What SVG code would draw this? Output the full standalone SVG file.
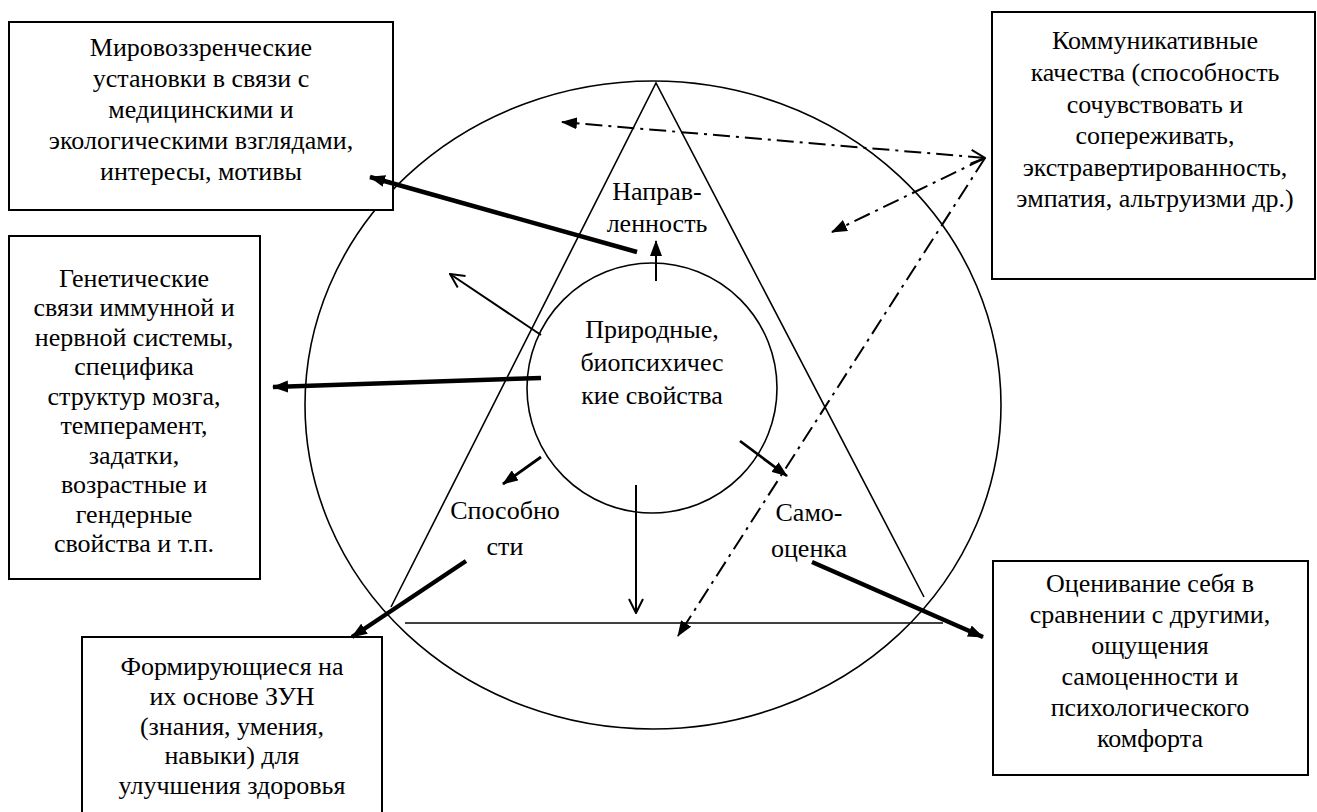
<svg xmlns="http://www.w3.org/2000/svg" width="1317" height="812" viewBox="0 0 1317 812">
<style>
text{font-family:"Liberation Serif","Times New Roman",serif;font-size:26px;fill:#000;text-anchor:middle}
.box{fill:#fff;stroke:#000;stroke-width:2}
.shape{fill:none;stroke:#000;stroke-width:1.6}
.thin{fill:none;stroke:#000;stroke-width:2}
.mid{fill:none;stroke:#000;stroke-width:2.8}
.thick{fill:none;stroke:#000;stroke-width:4.5}
.dd{fill:none;stroke:#000;stroke-width:2;stroke-dasharray:17 6 3 6}
</style>
<defs>
<marker id="fa" viewBox="0 0 16 12" refX="15" refY="6" markerWidth="16" markerHeight="12" markerUnits="userSpaceOnUse" orient="auto-start-reverse"><path d="M0,0 L16,6 L0,12 Z" fill="#000"/></marker>
<marker id="oa" viewBox="0 0 16 16" refX="15" refY="8" markerWidth="16" markerHeight="16" markerUnits="userSpaceOnUse" orient="auto-start-reverse"><path d="M1,1 L15,8 L1,15" fill="none" stroke="#000" stroke-width="2" stroke-dasharray="none"/></marker>
</defs>
<rect width="1317" height="812" fill="#fff"/>
<g id="background-shapes">
<ellipse class="shape" cx="653" cy="405" rx="348" ry="324"/>
<polyline class="shape" points="391,607 656,83 924,597"/>
<line class="shape" x1="405" y1="623" x2="943" y2="623"/>
</g>
<g id="core">
<circle cx="652" cy="388" r="125" fill="none" stroke="#000" stroke-width="1.6"/>
<text x="652" y="338">Природные,</text>
<text x="652" y="371">биопсихичес</text>
<text x="652" y="404">кие свойства</text>
</g>
<g id="label-napr"><text x="657" y="200">Направ-</text><text x="657" y="232">ленность</text></g>
<g id="label-sposob"><text x="505" y="519">Способно</text><text x="505" y="555">сти</text></g>
<g id="label-samo"><text x="809" y="521">Само-</text><text x="809" y="557">оценка</text></g>
<g id="box-worldview">
<rect class="box" x="9" y="22" width="384" height="188"/>
<text x="201" y="56">Мировоззренческие</text>
<text x="201" y="87">установки в связи с</text>
<text x="201" y="118">медицинскими и</text>
<text x="201" y="149">экологическими взглядами,</text>
<text x="201" y="180">интересы, мотивы</text>
</g>
<g id="box-communication">
<rect class="box" x="992" y="12" width="323" height="267"/>
<text x="1155" y="49">Коммуникативные</text>
<text x="1155" y="81">качества (способность</text>
<text x="1155" y="113">сочувствовать и</text>
<text x="1155" y="144">сопереживать,</text>
<text x="1155" y="176">экстравертированность,</text>
<text x="1155" y="207">эмпатия, альтруизми др.)</text>
</g>
<g id="box-genetic">
<rect class="box" x="9" y="236" width="251" height="343"/>
<text x="134" y="287">Генетические</text>
<text x="134" y="316">связи иммунной и</text>
<text x="134" y="346">нервной системы,</text>
<text x="134" y="375">специфика</text>
<text x="134" y="405">структур мозга,</text>
<text x="134" y="434">темперамент,</text>
<text x="134" y="464">задатки,</text>
<text x="134" y="493">возрастные и</text>
<text x="134" y="523">гендерные</text>
<text x="134" y="552">свойства и т.п.</text>
</g>
<g id="box-skills">
<rect class="box" x="82" y="637" width="300" height="185"/>
<text x="232" y="675">Формирующиеся на</text>
<text x="232" y="705">их основе ЗУН</text>
<text x="232" y="735">(знания, умения,</text>
<text x="232" y="764">навыки) для</text>
<text x="232" y="794">улучшения здоровья</text>
</g>
<g id="box-selfesteem">
<rect class="box" x="993" y="561" width="315" height="214"/>
<text x="1150" y="592">Оценивание себя в</text>
<text x="1150" y="623">сравнении с другими,</text>
<text x="1150" y="654">ощущения</text>
<text x="1150" y="685">самоценности и</text>
<text x="1150" y="716">психологического</text>
<text x="1150" y="747">комфорта</text>
</g>
<g id="connectors">
<line class="thick" x1="637" y1="252" x2="370" y2="177" marker-end="url(#fa)"/>
<line class="thin" x1="656" y1="281" x2="656" y2="241" marker-end="url(#fa)"/>
<line class="thin" x1="541" y1="335" x2="450" y2="274" marker-end="url(#oa)"/>
<line class="thick" x1="541" y1="378" x2="273" y2="387" marker-end="url(#fa)"/>
<line class="mid" x1="541" y1="457" x2="503" y2="484" marker-end="url(#fa)"/>
<line class="thick" x1="466" y1="561" x2="352" y2="637" marker-end="url(#fa)"/>
<line class="thin" x1="636" y1="485" x2="636" y2="613" marker-end="url(#oa)"/>
<line class="mid" x1="740" y1="441" x2="787" y2="476" marker-end="url(#fa)"/>
<line class="thick" x1="812" y1="562" x2="983" y2="637" marker-end="url(#fa)"/>
<line class="dd" x1="985" y1="158" x2="562" y2="122" marker-start="url(#oa)" marker-end="url(#fa)"/>
<line class="dd" x1="985" y1="158" x2="832" y2="232" marker-end="url(#fa)"/>
<line class="dd" x1="985" y1="158" x2="678" y2="636" marker-end="url(#fa)"/>
</g>
</svg>
